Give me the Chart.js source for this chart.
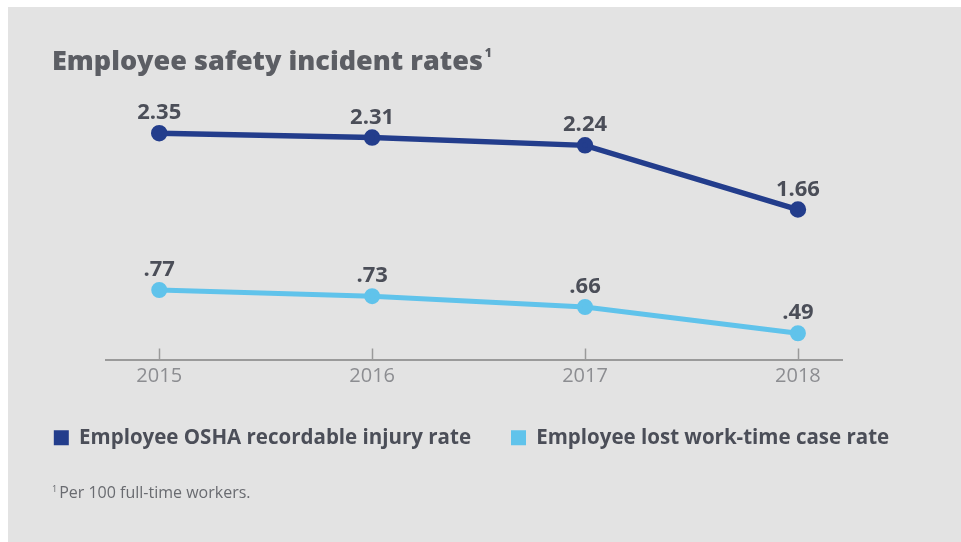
<!DOCTYPE html>
<html>
<head>
<meta charset="utf-8">
<title>Employee safety incident rates</title>
<script src="https://cdn.jsdelivr.net/npm/chart.js@4.4.1/dist/chart.umd.min.js"></script>
<style>
  html, body { margin: 0; padding: 0; background: #ffffff; }
  #panel {
    position: absolute; left: 8px; top: 7px;
    width: 953px; height: 535px;
    background: #e3e3e3;
    overflow: hidden;
  }
  #title {
    position: absolute; left: 44px; top: 37px;
    font-family: "Open Sans", sans-serif; font-weight: 800; font-size: 27px;
    line-height: 32px; color: #5c5e64; white-space: nowrap;
  }
  #title sup { font-size: 12px; vertical-align: 13px; line-height: 0; margin-left: 2px; }
  #note {
    position: absolute; left: 44px; top: 475px;
    font-family: "Open Sans", sans-serif; font-size: 16px;
    line-height: 20px; color: #696b70; white-space: nowrap;
  }
  #note sup { font-size: 9px; vertical-align: 6px; line-height: 0; margin-right: 2px; }
  #chartBox { position: absolute; left: 0; top: 0; width: 953px; height: 535px; }
</style>
</head>
<body>
<div id="panel">
  <div id="chartBox"><canvas id="safetyChart" width="953" height="535"></canvas></div>
  <div id="title">Employee safety incident rates<sup>1</sup></div>
  <div id="note"><sup>1</sup>Per 100 full-time workers.</div>
</div>
<script>
// Incident rates per year
var years = [2015, 2016, 2017, 2018];
var oshaRate = [2.35, 2.31, 2.24, 1.66];
var lostTimeRate = [0.77, 0.73, 0.66, 0.49];
var seriesNames = ["Employee OSHA recordable injury rate", "Employee lost work-time case rate"];
var seriesColors = ["#233d8c", "#60c3eb"];

var labelColor = "#4b4e58";
var axisColor = "#9a9a9a";

function toPoints(values) {
  return values.map(function(v, i) { return { x: years[i], y: v }; });
}

// ".77" style for values under one, "2.35" otherwise
function formatRate(v) {
  var s = v.toFixed(2);
  return v < 1 ? s.replace(/^0/, "") : s;
}

// Value labels above each point
var valueLabels = {
  id: "valueLabels",
  afterDatasetsDraw: function(chart) {
    var ctx = chart.ctx;
    ctx.save();
    ctx.font = "bold 22px 'Open Sans', sans-serif";
    ctx.fillStyle = labelColor;
    ctx.textAlign = "center";
    ctx.textBaseline = "alphabetic";
    chart.data.datasets.forEach(function(ds, di) {
      chart.getDatasetMeta(di).data.forEach(function(pt, i) {
        ctx.fillText(formatRate(ds.data[i].y), pt.x, pt.y - 14);
      });
    });
    ctx.restore();
  }
};

// Short tick marks pointing up from the x axis
var upTicks = {
  id: "upTicks",
  afterDraw: function(chart) {
    var scale = chart.scales.x;
    var ctx = chart.ctx;
    ctx.save();
    ctx.strokeStyle = axisColor;
    ctx.lineWidth = 1.5;
    years.forEach(function(y) {
      var px = Math.round(scale.getPixelForValue(y)) + 0.5;
      ctx.beginPath();
      ctx.moveTo(px, scale.top);
      ctx.lineTo(px, scale.top - 11);
      ctx.stroke();
    });
    ctx.restore();
  }
};

// Invisible side axes that only reserve room beside the plot
function sideAxis(pos, min, max, w) {
  return {
    position: pos,
    min: min,
    max: max,
    grid: { display: false },
    border: { display: false },
    ticks: { display: false },
    afterFit: function(scale) { scale.width = w; }
  };
}

window.onload = function() {
  var ctx = document.getElementById("safetyChart").getContext("2d");

  new Chart(ctx, {
    type: "line",
    data: {
      datasets: [{
        label: seriesNames[0],
        data: toPoints(oshaRate),
        yAxisID: "y",
        borderColor: seriesColors[0],
        backgroundColor: seriesColors[0],
        borderWidth: 5.5,
        pointRadius: 5.5,
        pointHoverRadius: 5.5,
        tension: 0
      }, {
        label: seriesNames[1],
        data: toPoints(lostTimeRate),
        yAxisID: "y1",
        borderColor: seriesColors[1],
        backgroundColor: seriesColors[1],
        borderWidth: 5,
        pointRadius: 5.5,
        pointHoverRadius: 5.5,
        tension: 0
      }]
    },
    options: {
      responsive: false,
      animation: false,
      layout: { padding: { top: 93, left: 0, right: 26, bottom: 84 } },
      scales: {
        x: {
          type: "linear",
          min: 2014.75,
          max: 2018.207,
          afterBuildTicks: function(scale) {
            scale.ticks = years.map(function(v) { return { value: v }; });
          },
          afterFit: function(scale) { scale.height = 28; },
          grid: { display: false, drawTicks: false },
          border: { display: true, color: axisColor, width: 2 },
          ticks: {
            padding: 5,
            color: "#8c8d91",
            font: { family: "'Open Sans', sans-serif", size: 20 },
            callback: function(v) { return String(v); }
          }
        },
        y: sideAxis("left", 0.3045, 2.65, 98),
        y1: sideAxis("right", 0.32, 2.0, 93)
      },
      plugins: {
        legend: {
          position: "bottom",
          labels: {
            boxWidth: 15,
            boxHeight: 15,
            padding: 40,
            color: labelColor,
            font: { family: "'Open Sans', sans-serif", size: 20.5, weight: "bold" },
            generateLabels: function(chart) {
              var items = Chart.defaults.plugins.legend.labels.generateLabels(chart);
              items.forEach(function(item) { item.lineWidth = 0; });
              return items;
            }
          }
        },
        tooltip: { enabled: false }
      }
    },
    plugins: [valueLabels, upTicks]
  });
};
</script>
</body>
</html>
